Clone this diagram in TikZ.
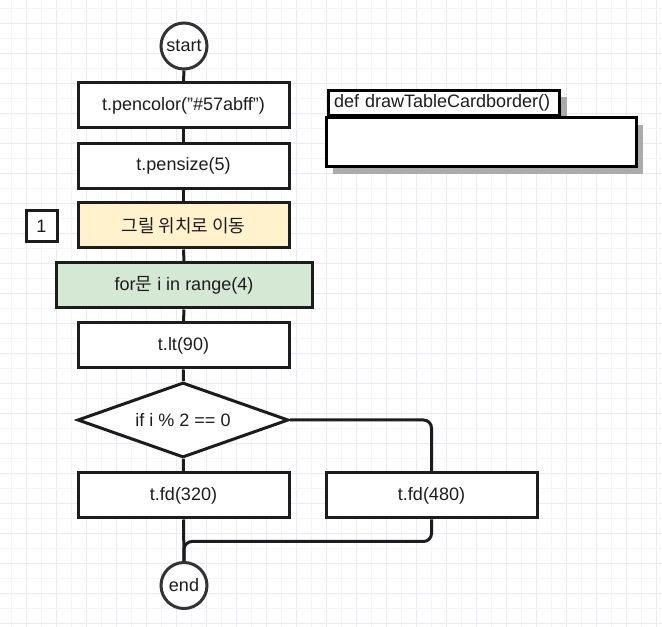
\documentclass[tikz,border=0pt]{standalone}
\usepackage{fontspec}
\setmainfont{Liberation Sans}
\newfontfamily\kr{Noto Sans CJK KR}
\usepackage{xcolor}
\usepackage{tikz}
\usetikzlibrary{shapes.geometric,positioning,shadows}

\definecolor{inkc}{HTML}{1C1C1C}
\definecolor{ringc}{HTML}{333333}
\definecolor{gridminor}{HTML}{F4F4F9}
\definecolor{gridmajor}{HTML}{EAEAF3}
\definecolor{movefill}{HTML}{FFF2CC}
\definecolor{loopfill}{HTML}{D5E8D4}
\definecolor{shadowc}{HTML}{ABABAB}

\begin{document}
\begin{tikzpicture}[
  x=0.75pt, y=-0.75pt,
  font=\fontsize{13.5pt}{16pt}\selectfont, text=inkc,
  stepbox/.style={draw=inkc, line width=2.25pt, fill=white, minimum width=158.25pt, minimum height=33.75pt, inner sep=0pt, align=center},
  terminal/.style={draw=ringc, circle, line width=2.25pt, fill=white, minimum size=34.5pt, inner sep=0pt},
  decision/.style={draw=inkc, diamond, line width=2.25pt, fill=white, aspect=2.8, minimum width=158.25pt, minimum height=56.25pt, inner sep=0pt},
  tag/.style={draw=inkc, line width=2.25pt, fill=white, minimum size=23.25pt, inner sep=0pt},
  flow/.style={draw=inkc, line width=2.25pt},
  card/.style={draw=black, line width=2.25pt, fill=white, inner sep=0pt,
    drop shadow={shadow xshift=5.25pt, shadow yshift=-5.25pt, fill=shadowc, opacity=1}},
]
% canvas and grid
\useasboundingbox (0,0) rectangle (662,627);
\fill[white] (0,0) rectangle (662,627);
\foreach \k in {0,...,43} {
  \pgfmathsetmacro{\gx}{11.7+15*\k}
  \ifodd\k \draw[gridmajor, line width=0.6pt] (\gx,0) -- (\gx,627);
  \else \draw[gridminor, line width=0.6pt] (\gx,0) -- (\gx,627); \fi
}
\foreach \k in {0,...,41} {
  \pgfmathsetmacro{\gy}{8.3+15*\k}
  \ifodd\k \draw[gridmajor, line width=0.6pt] (0,\gy) -- (662,\gy);
  \else \draw[gridminor, line width=0.6pt] (0,\gy) -- (662,\gy); \fi
}

% main column
\node[terminal] (start) at (184,46) {start};
\node[stepbox] (pencolor) at (183.5,105.5) {t.pencolor("\#57abff")};
\node[stepbox] (pensize) at (183.5,166) {t.pensize(5)};
\node[stepbox, fill=movefill] (move) at (183.5,225.5) {\kr 그릴 위치로 이동};
\node[tag] (num) at (41.5,226.5) {1};
\node[stepbox, fill=loopfill, minimum width=192pt] (loop) at (184,285.5) {for{\kr 문} i in range(4)};
\node[stepbox] (lt) at (183.5,345.5) {t.lt(90)};
\node[decision] (cond) at (183,420) {if i \% 2 == 0};
\node[stepbox] (fdA) at (183.5,495.5) {t.fd(320)};
\node[stepbox] (fdB) at (431.5,495.5) {t.fd(480)};
\node[terminal] (end) at (184,585.5) {end};

% function card
\node[card, minimum width=173.25pt, minimum height=18.75pt, anchor=south west, text width=165pt, inner xsep=4pt, align=left] (cardhead) at (327,117) {def drawTableCardborder()};
\node[card, minimum width=232.5pt, minimum height=36.75pt] (cardbody) at (481,142.5) {};

% connectors
\draw[flow] (start) -- (pencolor);
\draw[flow] (pencolor) -- (pensize);
\draw[flow] (pensize) -- (move);
\draw[flow] (move) -- (loop);
\draw[flow] (loop) -- (lt);
\draw[flow] (lt) -- (cond);
\draw[flow] (cond) -- (fdA);
\draw[flow] (fdA) -- (end);
\draw[flow, rounded corners=6pt] (cond.east) -| (fdB.north);
\path (fdB.south) ++(0,22) coordinate (merge);
\draw[flow, rounded corners=6pt] (fdB.south) -- (merge) -| (end.north);
\end{tikzpicture}
\end{document}
